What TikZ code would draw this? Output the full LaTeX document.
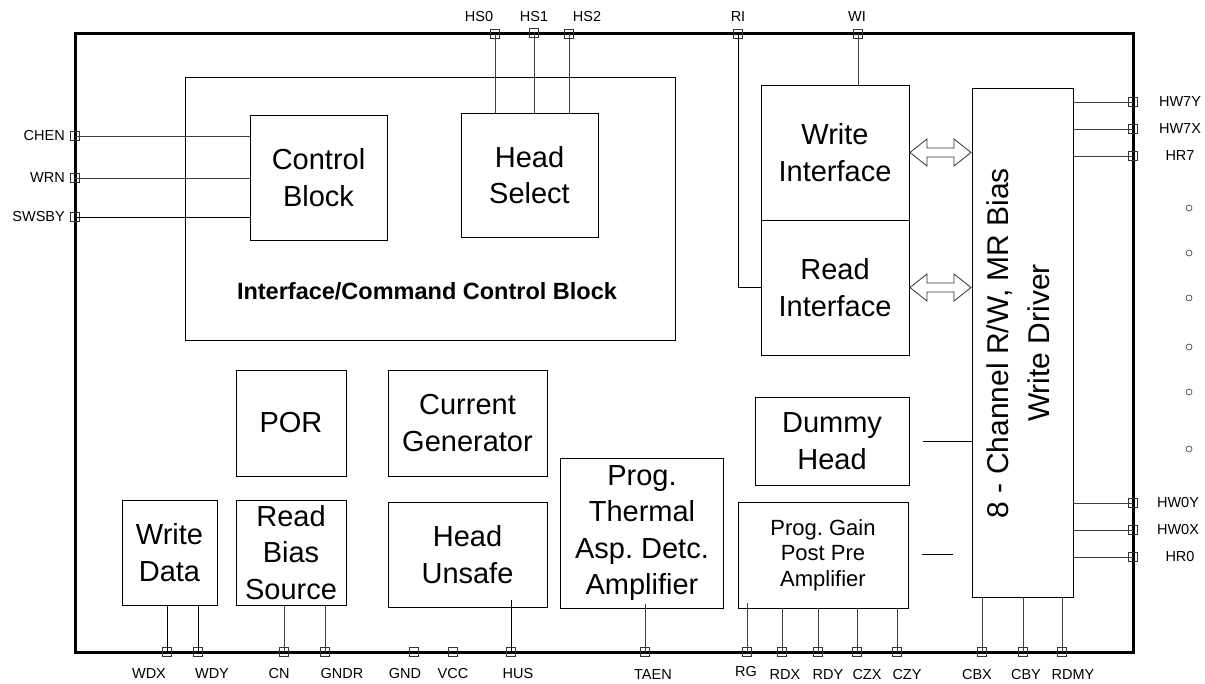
\documentclass[tikz,border=0pt]{standalone}
\usepackage{fontspec}
\setmainfont{Liberation Sans}
\usetikzlibrary{calc}
\frenchspacing
\begin{document}
\begin{tikzpicture}[x=1pt,y=-1pt,
  blk/.style={draw=black, line width=0.9pt, align=center, inner sep=0pt, outer sep=0pt, font=\frenchspacing\fontsize{29}{36.5}\selectfont},
  pin/.style={draw=black!80, line width=0.7pt, minimum size=9pt, inner sep=0pt, outer sep=0pt},
  lab/.style={font=\fontsize{14.5}{16}\selectfont, inner sep=0pt},
  wire/.style={draw=black!75, line width=0.8pt},
  hol/.style={draw=black!80, fill=white, line width=0.8pt, line join=miter},
  dot/.style={draw=black!80, line width=0.6pt},
]
\useasboundingbox (0,0) rectangle (1205,684);
% outer frame
\node[draw, line width=3pt, minimum width=1058pt, minimum height=618pt, inner sep=0pt, outer sep=0pt] (chip) at (604,343) {};

% blocks
\node[blk, minimum width=490pt, minimum height=263pt] (icc) at (430,208.5) {};
\node[font=\bfseries\fontsize{23.5}{28}\selectfont, inner sep=0pt] (icclab) at (427,291) {Interface/Command Control Block};
\node[blk, minimum width=137pt, minimum height=125pt] (ctl) at (318.5,177.5) {Control\\Block};
\node[blk, minimum width=137pt, minimum height=124pt] (hsel) at (529.5,175) {Head\\Select};
\node[blk, minimum width=148pt, minimum height=135pt] (wif) at (835,152.5) {Write\\Interface};
\node[blk, minimum width=148pt, minimum height=135pt] (rif) at (835,287.5) {Read\\Interface};
\node[blk, minimum width=101pt, minimum height=509pt] (drv) at (1022.5,342.5) {};
\node[font=\fontsize{30}{41}\selectfont, align=center, rotate=90, inner sep=0pt] (drvlab) at (1018,343) {8 - Channel R/W, MR Bias\\Write Driver};
\node[blk, minimum width=110pt, minimum height=106pt] (por) at (291,423) {POR};
\node[blk, minimum width=159pt, minimum height=106pt] (cur) at (467.5,423) {Current\\Generator};
\node[blk, minimum width=95pt, minimum height=105pt] (wd) at (169.5,552.5) {Write\\Data};
\node[blk, minimum width=110pt, minimum height=105pt] (rbs) at (291,552.5) {Read\\Bias\\Source};
\node[blk, minimum width=159pt, minimum height=105pt] (hun) at (467.5,554.5) {Head\\Unsafe};
\node[blk, minimum width=163pt, minimum height=150pt] (pta) at (642,533) {Prog.\\Thermal\\Asp. Detc.\\Amplifier};
\node[blk, minimum width=154pt, minimum height=88pt] (dum) at (832,441) {Dummy\\Head};
\node[blk, minimum width=170pt, minimum height=106pt, font=\frenchspacing\fontsize{22}{25.5}\selectfont] (pga) at (823,555) {Prog. Gain\\Post Pre\\Amplifier};

% top pins
\node[pin] (hs0) at (495,34) {};
\node[pin] (hs1) at (534,33) {};
\node[pin] (hs2) at (569,34) {};
\node[pin] (ri) at (738,34) {};
\node[pin] (wi) at (858,34) {};
\node[lab] (lhs0) at (479,17) {HS0};
\node[lab] (lhs1) at (534,17) {HS1};
\node[lab] (lhs2) at (587,17) {HS2};
\node[lab] (lri) at (738,17) {RI};
\node[lab] (lwi) at (857,17) {WI};

% left pins
\node[pin] (chen) at (75,136) {};
\node[pin] (wrn) at (75,178) {};
\node[pin] (swsby) at (75,217) {};
\node[lab, anchor=east] (lchen) at (65,136) {CHEN};
\node[lab, anchor=east] (lwrn) at (65,178) {WRN};
\node[lab, anchor=east] (lswsby) at (65,217) {SWSBY};

% right pins
\node[pin] (hw7y) at (1133,102) {};
\node[pin] (hw7x) at (1133,129) {};
\node[pin] (hr7) at (1133,156) {};
\node[pin] (hw0y) at (1133,503) {};
\node[pin] (hw0x) at (1133,530) {};
\node[pin] (hr0) at (1133,557) {};
\node[lab] (lhw7y) at (1180,102) {HW7Y};
\node[lab] (lhw7x) at (1180,129) {HW7X};
\node[lab] (lhr7) at (1180,156) {HR7};
\node[lab] (lhw0y) at (1178,503) {HW0Y};
\node[lab] (lhw0x) at (1178,530) {HW0X};
\node[lab] (lhr0) at (1180,557) {HR0};

% bottom pins
\foreach \n/\x in {wdx/167, wdy/198, cn/284, gndr/325, gnd/414, vcc/453, hus/511, taen/645, rg/747, rdx/782, rdy/818, czx/857, czy/897, cbx/982, cby/1023, rdmy/1062}{
  \node[pin] (\n) at (\x,652) {};
}
\node[lab] (lwdx) at (149,674) {WDX};
\node[lab] (lwdy) at (212,674) {WDY};
\node[lab] (lcn) at (279,674) {CN};
\node[lab] (lgndr) at (342,674) {GNDR};
\node[lab] (lgnd) at (405,674) {GND};
\node[lab] (lvcc) at (453,674) {VCC};
\node[lab] (lhus) at (518,674) {HUS};
\node[lab] (ltaen) at (653,675) {TAEN};
\node[lab] (lrg) at (746,672) {RG};
\node[lab] (lrdx) at (785,675) {RDX};
\node[lab] (lrdy) at (828,675) {RDY};
\node[lab] (lczx) at (867,675) {CZX};
\node[lab] (lczy) at (907,675) {CZY};
\node[lab] (lcbx) at (977,675) {CBX};
\node[lab] (lcby) at (1026,675) {CBY};
\node[lab] (lrdmy) at (1073,675) {RDMY};

% top wires
\draw[wire] (hs0.center) -- (hs0.center |- hsel.north);
\draw[wire] (hs1.center) -- (hs1.center |- hsel.north);
\draw[wire] (hs2.center) -- (hs2.center |- hsel.north);
\draw[wire] (wi.center) -- (wi.center |- wif.north);
\draw[wire, black] (ri.center) -- (ri.center |- rif.west) -- (rif.west);

% left wires
\draw[wire] (chen.center) -- (chen.center -| ctl.west);
\draw[wire] (wrn.center) -- (wrn.center -| ctl.west);
\draw[wire, black] (swsby.center) -- (swsby.center -| ctl.west);

% right wires
\foreach \p in {hw7y,hw7x,hr7,hw0y,hw0x,hr0}{
  \draw[wire] (\p.center -| drv.east) -- (\p.center);
}

% bottom wires
\draw[wire, black] (wdx.center) -- (wdx.center |- wd.south);
\draw[wire, black] (wdy.center) -- (wdy.center |- wd.south);
\draw[wire] (cn.center) -- (cn.center |- rbs.south);
\draw[wire] (gndr.center) -- (gndr.center |- rbs.south);
\draw[wire, black] (hus.center) -- ($(hus.center |- hun.south)+(0,-7)$);
\draw[wire] (taen.center) -- ($(taen.center |- pta.south)+(0,-4)$);
\draw[wire] (rg.center) -- ($(rg.center |- pga.south)+(0,-5)$);
\foreach \p in {rdx,rdy,czx,czy}{
  \draw[wire] (\p.center) -- (\p.center |- pga.south);
}
\foreach \p in {cbx,cby,rdmy}{
  \draw[wire] (\p.center) -- (\p.center |- drv.south);
}

% dummy and pga side lines
\coordinate (dl) at (923,441);
\draw[wire, black] (dl) -- (dl -| drv.west);
\coordinate (pl1) at (922,554);
\coordinate (pl2) at (953,554);
\draw[wire, black] (pl1) -- (pl2);

% double arrows
\foreach \a in {wif,rif}{
  \draw[hol] ($(\a.east)+(1,0)$) -- ++(17,-13.5) -- ++(0,9) -- ++(27,0) -- ++(0,-9) -- ++(17,13.5) -- ++(-17,13.5) -- ++(0,-9) -- ++(-27,0) -- ++(0,9) -- cycle;
}

% dots
\foreach \y in {208,253,298,347,392,449}{
  \draw[dot] (1189,\y) circle[radius=3pt];
}
\end{tikzpicture}
\end{document}
